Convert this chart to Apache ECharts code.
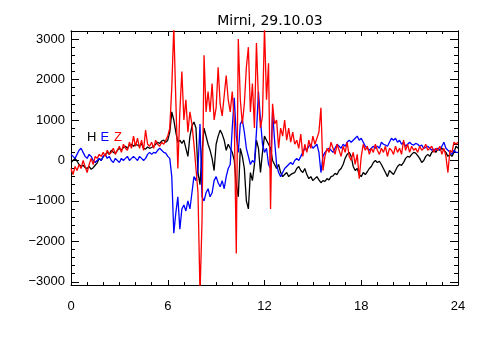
<!DOCTYPE html>
<html><head><meta charset="utf-8">
<script src="https://cdn.jsdelivr.net/npm/echarts@6/dist/echarts.min.js"></script>
<style>html,body{margin:0;padding:0;background:#fff}#c{width:480px;height:350px}</style>
</head><body><div id="c"></div>
<script>
var titleText = 'Mirni, 29.10.03';
var legendNames = ['H', 'E', 'Z'];
var xTicks = [0, 6, 12, 18, 24];
var yTickLabels = [-3000, -2000, -1000, 0, 1000, 2000, 3000];
var yMinorTicks = [-3000,-2800,-2600,-2400,-2200,-2000,-1800,-1600,-1400,-1200,-1000,-800,-600,-400,-200,0,200,400,600,800,1000,1200,1400,1600,1800,2000,2200,2400,2600,2800,3000,3200];
// sample step: 1/8 hour
var seriesH = [
-50,0,50,-20,-100,-150,-120,-180,
-200,-150,-220,-180,-120,-60,50,0,
100,150,200,150,250,200,180,250,
300,250,320,350,300,380,400,350,
400,380,350,420,300,280,330,300,
320,350,400,450,420,480,500,450,
500,700,1200,1000,700,450,500,420,
500,300,100,600,850,950,800,-300,
-600,200,800,600,400,250,50,-250,
400,600,750,650,500,250,400,300,
200,0,-600,-900,300,100,-200,-1000,
-1200,-300,-500,-100,500,300,-300,200,
600,500,400,300,0,-100,-200,-100,
-300,-400,-350,-300,-400,-350,-320,-300,
-200,-150,-250,-300,-200,-350,-450,-400,
-500,-450,-400,-480,-550,-500,-520,-450,
-480,-400,-380,-320,-350,-250,-200,-100,
50,150,200,100,-150,-250,-200,-350,
-400,-300,-350,-280,-200,-150,-50,0,
-50,-20,-100,-200,-300,-400,-250,-300,
-350,-250,-150,-100,-120,-50,50,100,
80,150,200,180,120,50,-50,0,
100,150,100,200,250,200,280,250,
300,250,200,100,150,100,200,350,
300];
var seriesE = [
150,100,50,150,250,300,200,100,
50,150,100,0,-50,0,50,0,
100,150,50,100,0,-50,50,0,
-50,50,0,50,100,0,50,100,
50,0,100,50,0,50,150,200,
150,200,180,250,300,250,200,180,
100,50,-400,-1800,-1300,-900,-1700,-1200,
-1100,-1250,-1000,-1200,-800,-400,-500,-200,
900,-900,-1000,-800,-700,-900,-800,-500,
-400,-550,-650,-500,-700,-400,-200,-100,
800,1550,600,200,900,1000,700,300,
100,-100,0,-50,700,1700,1000,400,
200,300,-100,-200,1200,500,-100,-300,
-400,-300,-200,-150,-100,-50,-100,0,
50,0,100,200,300,250,350,400,
300,350,400,200,-300,100,200,250,
300,250,200,300,400,350,300,400,
350,450,500,450,500,550,600,500,
550,450,350,300,250,300,350,300,
350,300,450,400,380,350,450,550,
500,550,450,500,400,450,350,400,
450,400,380,420,400,350,380,300,
320,350,300,250,280,250,300,250,
350,450,300,250,200,150,250,200,
200];
var seriesZ = [
-200,-350,-150,-250,-100,-200,0,-150,
-300,-100,50,-100,100,50,150,100,
200,100,250,150,200,300,150,250,
350,200,400,300,250,450,300,600,
350,550,300,500,250,750,400,350,
450,300,500,400,350,450,400,500,
600,800,1800,3300,1500,-200,1200,2200,
1000,1500,700,1200,900,400,-200,-800,
-3300,-1500,2600,1200,1700,1200,1900,1000,
1300,2300,1400,1100,1600,2100,1500,1200,
1700,1000,-2300,3000,1500,900,1400,2300,
2800,1200,1900,800,2900,1500,800,1100,
3300,1500,2400,-1200,1400,900,1000,300,
800,600,1000,500,800,450,700,400,
500,300,650,100,400,200,500,300,
600,400,550,700,1300,-250,100,300,
200,450,300,150,400,250,100,350,
200,450,100,0,200,-100,150,-450,
100,400,250,350,150,300,200,400,
250,150,300,200,350,100,300,250,
150,350,200,300,150,500,250,400,
200,350,250,300,200,350,250,300,
400,250,300,350,200,300,250,350,
150,300,100,-300,250,200,450,400,
450];
var colors = ['#000000', '#0000ff', '#ff0000'];

function pairs(vals) {
  var out = [];
  for (var i = 0; i < vals.length; i++) out.push([i / 8, vals[i]]);
  return out;
}
var font = 'Liberation Sans';
function yAxisDef(pos, major) {
  return {
    type: 'value', position: pos, min: -3080, max: 3200,
    axisLine: { show: true, onZero: false, lineStyle: { color: '#000', width: 1 } },
    axisTick: { show: true, inside: true, length: major ? 8 : 4,
      customValues: major ? yTickLabels : yMinorTicks, lineStyle: { color: '#000' } },
    axisLabel: (major && pos === 'left') ? { show: true, customValues: yTickLabels, margin: 6,
      color: '#000', fontFamily: font, fontSize: 13,
      formatter: function (v) { return String(v).replace('-', '\u2212'); } } : { show: false },
    splitLine: { show: false }
  };
}
function xAxisDef(pos) {
  return {
    type: 'value', position: pos, min: 0, max: 24, interval: 6,
    axisLine: { show: true, onZero: false, lineStyle: { color: '#000', width: 1 } },
    axisTick: { show: true, inside: true, length: 5, lineStyle: { color: '#000' } },
    minorTick: { show: true, splitNumber: 6, length: 3, lineStyle: { color: '#000' } },
    axisLabel: pos === 'bottom' ? { show: true, margin: 15, color: '#000', fontFamily: font, fontSize: 13 } : { show: false },
    splitLine: { show: false }, minorSplitLine: { show: false }
  };
}
var chart = echarts.init(document.getElementById('c'), null, { renderer: 'canvas' });
var data = [seriesH, seriesE, seriesZ];
var series = data.map(function (d, k) {
  return { type: 'line', name: legendNames[k], data: pairs(d), xAxisIndex: 0, yAxisIndex: 0,
    showSymbol: false, symbol: 'none', clip: true, animation: false,
    lineStyle: { color: colors[k], width: 1.3 }, itemStyle: { color: colors[k] } };
});
chart.setOption({
  animation: false,
  backgroundColor: '#fff',
  title: { text: titleText, left: 265, top: 9, textAlign: 'center',
    textStyle: { fontFamily: 'DejaVu Sans', fontSize: 14, fontWeight: 'normal', color: '#000' } },
  grid: { left: 71, right: 22, top: 31, bottom: 65, containLabel: false },
  xAxis: [xAxisDef('bottom'), xAxisDef('top')],
  yAxis: [yAxisDef('left', true), yAxisDef('left', false), yAxisDef('right', true), yAxisDef('right', false)],
  graphic: legendNames.map(function (n, k) {
    return { type: 'text', left: 87 + k * 13.5, top: 131,
      style: { text: n, fill: colors[k], font: '13px ' + font } };
  }),
  series: series
});
</script></body></html>
